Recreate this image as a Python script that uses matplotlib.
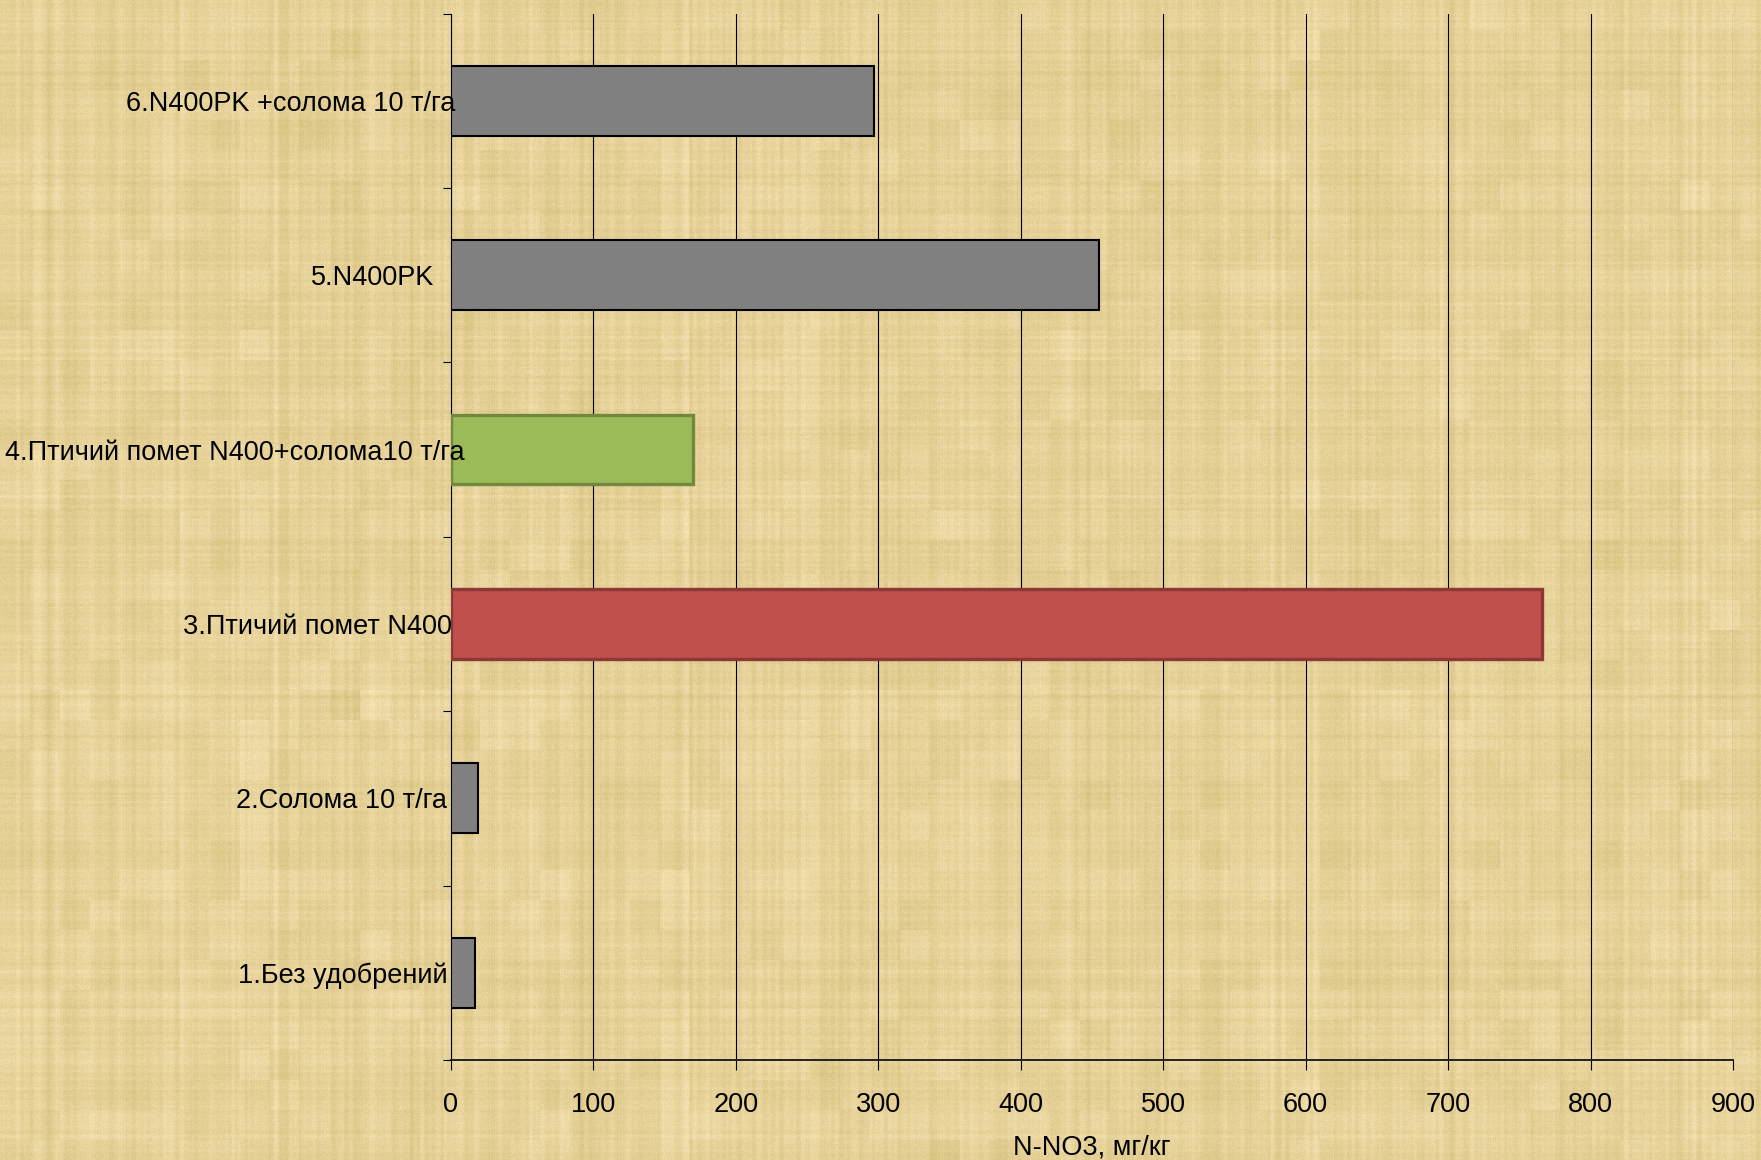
import numpy as np
import matplotlib
matplotlib.use("Agg")
import matplotlib.pyplot as plt
from matplotlib.transforms import ScaledTranslation
from matplotlib.ticker import MultipleLocator, FixedLocator

plt.rcParams["font.family"] = ["Liberation Sans", "DejaVu Sans"]

# ---- data -------------------------------------------------------------------
labels = ["1.Без удобрений", "2.Солома 10 т/га", "3.Птичий помет N400",
          "4.Птичий помет N400+солома10 т/га", "5.N400PK",
          "6.N400PK +солома 10 т/га"]
values = [17, 19, 766, 170, 455, 297]
fills = ["#808080", "#808080", "#C0504D", "#9BBB59", "#808080", "#808080"]
edges = ["#000000", "#000000", "#8C3836", "#71893F", "#000000", "#000000"]
edge_w = [1.5, 1.5, 2.4, 2.4, 1.5, 1.5]
# right-edge shift of each category label, in points
label_dx = [-2.4, -3.2, 0.8, 9.7, -12, 3.2]

W, H, DPI = 1761, 1160, 100
fig = plt.figure(figsize=(W / DPI, H / DPI), dpi=DPI)

# ---- papyrus-like backdrop --------------------------------------------------
rng = np.random.default_rng(7)
base = np.array([230, 210, 153], dtype=float)
blocks = rng.normal(0, 1, (40, 60))
blocks = np.kron(blocks, np.ones((H // 40 + 1, W // 60 + 1)))[:H, :W]
cols = rng.normal(0, 1, W)
cols = np.convolve(cols, np.ones(4) / 4, mode="same")
rows = rng.normal(0, 1, H)
rows = np.convolve(rows, np.ones(3) / 3, mode="same")
fine = rng.normal(0, 1, (H, W))
shade = 2.5 * blocks + 7 * cols[None, :] + 4 * rows[:, None] + 3 * fine
img = base[None, None, :] + shade[:, :, None] * np.array([0.8, 0.9, 1.4])
img = np.clip(img, 0, 255).astype(np.uint8)
bg = fig.add_axes([0, 0, 1, 1], zorder=-10)
bg.imshow(img, aspect="auto", interpolation="nearest")
bg.axis("off")

# ---- bars -------------------------------------------------------------------
ax = fig.add_axes([451 / W, 1 - 1060 / H, (1733 - 451) / W, (1060 - 13.5) / H])
ax.patch.set_alpha(0)
pos = np.arange(len(values))
for i in pos:
    ax.barh(i, values[i], height=0.4, color=fills[i], edgecolor=edges[i],
            linewidth=edge_w[i], zorder=3)

ax.set_xlim(0, 900)
ax.set_ylim(-0.5, len(values) - 0.5)
ax.xaxis.set_major_locator(MultipleLocator(100))
ax.grid(axis="x", color="black", lw=0.8)
ax.set_axisbelow(True)
ax.yaxis.set_zorder(5)   # category labels sit on top of the bars

ax.set_yticks(pos)
ax.set_yticklabels(labels, fontsize=19.5)
ax.yaxis.set_minor_locator(FixedLocator(np.arange(-0.5, len(values), 1.0)))
ax.tick_params(axis="y", which="major", length=0, pad=0)
ax.tick_params(axis="y", which="minor", length=6, width=0.8, color="black")
ax.tick_params(axis="x", length=7, width=0.8, pad=16, labelsize=19.5)
for lab, dx in zip(ax.get_yticklabels(), label_dx):
    lab.set_transform(lab.get_transform() +
                      ScaledTranslation(dx / 72, 0, fig.dpi_scale_trans))

for s in ("top", "right"):
    ax.spines[s].set_visible(False)
ax.spines["left"].set_linewidth(0.8)
ax.spines["bottom"].set_linewidth(1.4)
ax.spines["bottom"].set_color("#222222")

ax.set_xlabel("N-NO3, мг/кг", fontsize=19.5, labelpad=12)

fig.savefig("out.png", dpi=DPI)
